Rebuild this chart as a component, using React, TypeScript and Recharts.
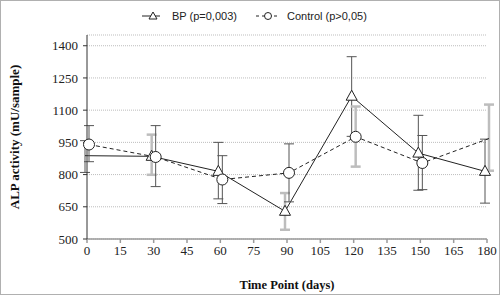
import {FunctionComponent} from 'react';
import {LineChart, Line, XAxis, YAxis, CartesianGrid, ErrorBar, Label} from 'recharts';

const days = [0, 30, 60, 90, 120, 150, 180];
const bp = [888, 885, 815, 629, 1165, 900, 815];
const control = [940, 882, 777, 808, 976, 854, 968];

// [below, above]
const bpErrDark: ([number, number] | null)[] = [[78, 70], null, [128, 135], null, [187, 184], [173, 176], [148, 150]];
const bpErrGray: ([number, number] | null)[] = [null, [86, 101], null, [86, 85], null, null, null];
const controlErrDark: ([number, number] | null)[] = [[80, 88], [138, 146], [112, 111], [135, 135], null, [124, 128], null];
const controlErrGray: ([number, number] | null)[] = [null, null, null, null, [139, 141], null, [150, 158]];

const xTicks = [0, 15, 30, 45, 60, 75, 90, 105, 120, 135, 150, 165, 180];
const yTicks = [500, 650, 800, 950, 1100, 1250, 1400];

const data = days.map((day, i) => ({
  day,
  bp: bp[i],
  control: control[i],
  bpErrDark: bpErrDark[i],
  bpErrGray: bpErrGray[i],
  controlErrDark: controlErrDark[i],
  controlErrGray: controlErrGray[i],
}));

const serif = '"Liberation Serif", "DejaVu Serif", serif';
const sans = '"Liberation Sans", Arial, sans-serif';

const Triangle = (props: any) => {
  const {cx, cy, index} = props;
  if (index === 0 || cx == null) return <g key={`t${index}`} />;
  return (
    <polygon
      key={`t${index}`}
      points={`${cx},${cy - 6} ${cx - 5.5},${cy + 4} ${cx + 5.5},${cy + 4}`}
      fill="#fff"
      stroke="#222"
      strokeWidth={1}
    />
  );
};

const Circle = (props: any) => {
  const {cx, cy, index} = props;
  if (index === days.length - 1 || cx == null) return <g key={`c${index}`} />;
  return <circle key={`c${index}`} cx={cx} cy={cy} r={5.5} fill="#fff" stroke="#222" strokeWidth={1} />;
};

const ChartLegend = () => (
  <svg width={500} height={28} style={{position: 'absolute', left: 0, top: 0}}>
    <g fontFamily={sans} fontSize={11} fill="#222">
      <line x1={142} x2={160} y1={16} y2={16} stroke="#222" />
      <polygon points="153,12 149,19 157,19" fill="#fff" stroke="#222" />
      <text x={172} y={20}>BP (p=0,003)</text>
      <line x1={256} x2={280} y1={16} y2={16} stroke="#222" strokeDasharray="3 3" />
      <circle cx={268} cy={16} r={3.5} fill="#fff" stroke="#222" />
      <text x={287} y={20}>Control (p&gt;0,05)</text>
    </g>
  </svg>
);

export default (() => {
  return (
    <div
      style={{
        position: 'absolute',
        left: 0,
        top: 0,
        width: 498,
        height: 293,
        border: '1px solid #b0b0b0',
        background: '#fff',
      }}
    >
      <div style={{position: 'absolute', left: -1, top: -1, width: 500, height: 295}}>
        <LineChart width={500} height={295} data={data} margin={{top: 35, right: 13, bottom: 26, left: 27}}>
          <CartesianGrid vertical={false} stroke="#bdbdbd" strokeDasharray="1 1" xAxisId="main" yAxisId="y" />
          <XAxis
            xAxisId="main"
            dataKey="day"
            type="number"
            domain={[0, 180]}
            ticks={xTicks}
            interval={0}
            height={30}
            tickSize={4}
            tickMargin={3}
            stroke="#9a9a9a"
            strokeWidth={1.5}
            tick={{fill: '#222', fontFamily: serif, fontSize: 13}}
          >
            <Label
              value="Time Point (days)"
              position="insideBottom"
              offset={-20}
              style={{fontFamily: serif, fontSize: 12.5, fontWeight: 'bold', fill: '#111'}}
            />
          </XAxis>
          <XAxis xAxisId="bp" dataKey="day" type="number" domain={[0, 180]} hide height={0} padding={{left: -2, right: 2}} />
          <XAxis xAxisId="control" dataKey="day" type="number" domain={[0, 180]} hide height={0} padding={{left: 2, right: -2}} />
          <YAxis
            yAxisId="y"
            type="number"
            domain={[500, 1450]}
            ticks={yTicks}
            interval={0}
            width={60}
            tickSize={4}
            tickMargin={5}
            stroke="#333"
            tick={{fill: '#222', fontFamily: serif, fontSize: 13}}
          >
            <Label
              value="ALP activity (mU/sample)"
              angle={-90}
              position="insideLeft"
              offset={-13}
              style={{fontFamily: serif, fontSize: 13, fontWeight: 'bold', fill: '#111', textAnchor: 'middle'}}
            />
          </YAxis>
          <Line
            xAxisId="bp"
            yAxisId="y"
            dataKey="bp"
            stroke="#222"
            strokeWidth={1}
            dot={Triangle}
            activeDot={false}
            isAnimationActive={false}
          >
            <ErrorBar dataKey="bpErrGray" width={5} stroke="#bdbdbd" strokeWidth={2.5} direction="y" />
            <ErrorBar dataKey="bpErrDark" width={5} stroke="#555" strokeWidth={1} direction="y" />
          </Line>
          <Line
            xAxisId="control"
            yAxisId="y"
            dataKey="control"
            stroke="#222"
            strokeWidth={1}
            strokeDasharray="4 3"
            dot={Circle}
            activeDot={false}
            isAnimationActive={false}
          >
            <ErrorBar dataKey="controlErrGray" width={5} stroke="#bdbdbd" strokeWidth={2.5} direction="y" />
            <ErrorBar dataKey="controlErrDark" width={5} stroke="#555" strokeWidth={1} direction="y" />
          </Line>
        </LineChart>
        <ChartLegend />
      </div>
    </div>
  );
}) satisfies FunctionComponent;
